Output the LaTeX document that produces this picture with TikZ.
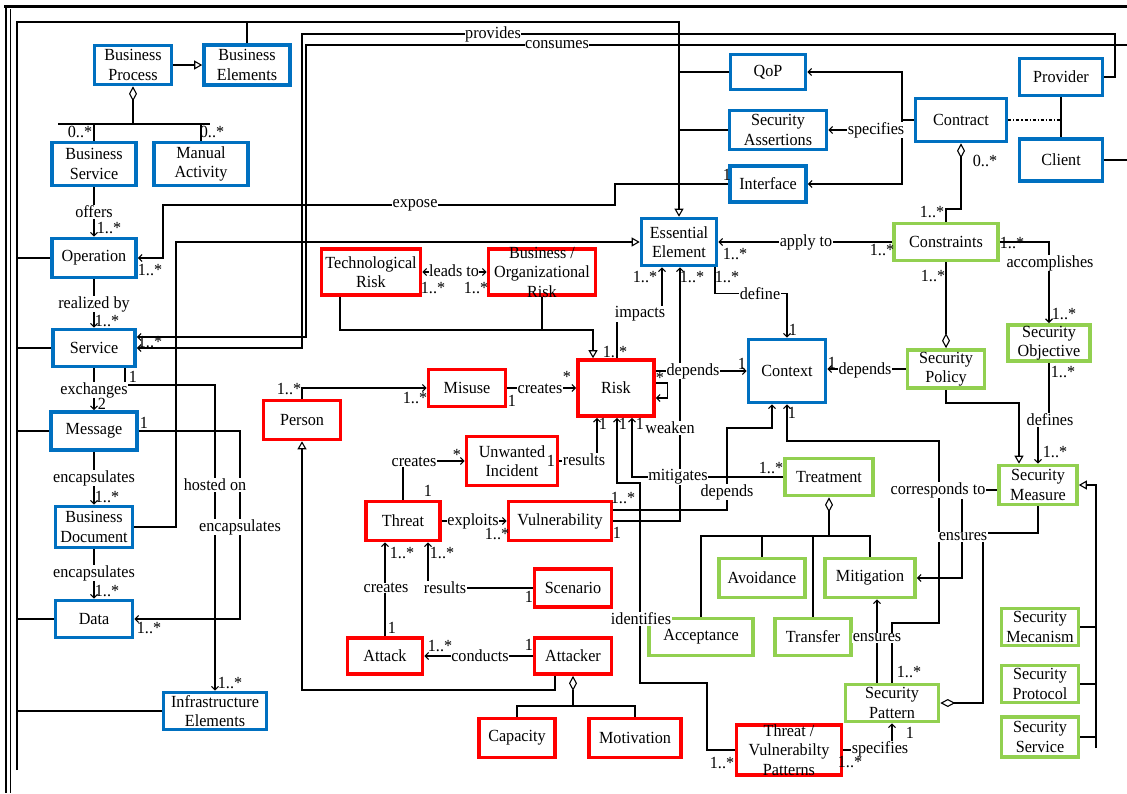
\documentclass[tikz,border=0pt]{standalone}
\usepackage{fontspec}
\setmainfont{Liberation Serif}[FakeStretch=0.95]
\usepackage{tikz}
\usetikzlibrary{arrows.meta}
\usepackage{xcolor}

\definecolor{umlblue}{HTML}{0070C0}
\definecolor{umlred}{HTML}{FF0000}
\definecolor{umlgreen}{HTML}{92D050}
\newcommand{\om}{1..*}
\newcommand{\zm}{0..*}

\tikzset{
  box/.style={draw, line width=3.6pt, align=center, inner sep=1pt},
  bluebox/.style={box, draw=umlblue},
  redbox/.style={box, draw=umlred},
  greenbox/.style={box, draw=umlgreen},
  sz/.style 2 args={minimum width=#1, minimum height=#2},
  nav/.style={-{Straight Barb[length=3.5pt,width=7pt]}},
  navboth/.style={{Straight Barb[length=3.5pt,width=7pt]}-{Straight Barb[length=3.5pt,width=7pt]}},
  gen/.style={-{Triangle[open,length=8pt,width=9pt]}},
  agg/.style={{Diamond[open,length=15pt,width=8pt]}-},
  lbl/.style={fill=white, inner sep=0.6pt},
  mult/.style={inner sep=0pt},
}

\begin{document}
\begin{tikzpicture}[x=1pt, y=-1pt, line width=1.1pt,
    every node/.append style={font=\fontsize{17}{19.5}\selectfont}]
    \useasboundingbox (0,0) rectangle (1127,793);

    % frame
    \draw[line width=2.5pt] (4,6.5) -- (1127,6.5);
    \draw[line width=2pt] (6,5.5) -- (6,793);
    \draw[line width=0.8pt] (10.5,9) -- (10.5,793);

    % business side (blue)
    \node[bluebox, sz={77}{39}] (bp) at (133,65) {Business\\Process};
    \node[bluebox, sz={86}{40}] (be) at (247,65) {Business\\Elements};
    \node[bluebox, sz={84}{43}] (bs) at (94,164) {Business\\Service};
    \node[bluebox, sz={94}{43}] (ma) at (201,164) {Manual\\Activity};
    \node[bluebox, sz={84}{39}] (op) at (94,258) {Operation};
    \node[bluebox, sz={82}{37}] (sv) at (94,348) {Service};
    \node[bluebox, sz={86}{38}] (msg) at (94,431) {Message};
    \node[bluebox, sz={77}{41}] (bd) at (94,527) {Business\\Document};
    \node[bluebox, sz={77}{37}] (data) at (94,619) {Data};
    \node[bluebox, sz={103}{37}] (infra) at (215,711) {Infrastructure\\Elements};
    \node[bluebox, sz={75}{35}] (qop) at (768,72) {QoP};
    \node[bluebox, sz={97}{39}] (sa) at (778,130) {Security\\Assertions};
    \node[bluebox, sz={76}{36}] (itf) at (768,184) {Interface};
    \node[bluebox, sz={75}{47}] (ee) at (679,242) {Essential\\Element};
    \node[bluebox, sz={91}{43}] (contract) at (961,120) {Contract};
    \node[bluebox, sz={83}{37}] (provider) at (1061,77) {Provider};
    \node[bluebox, sz={83}{42}] (client) at (1061,160) {Client};
    \node[bluebox, sz={77}{63}] (ctx) at (787,371) {Context};

    % risk side (red)
    \node[redbox, sz={99}{46}] (tr) at (371,272) {Technological\\Risk};
    \node[redbox, sz={107}{46}, inner ysep=-5pt] (br) at (542,272) {Business /\\Organizational\\Risk};
    \node[redbox, sz={76}{56}] (risk) at (616,388) {Risk};
    \node[redbox, sz={77}{37}] (misuse) at (467,388) {Misuse};
    \node[redbox, sz={77}{39}] (person) at (302,420) {Person};
    \node[redbox, sz={91}{49}] (ui) at (512,461) {Unwanted\\Incident};
    \node[redbox, sz={74}{39}] (threat) at (403,521) {Threat};
    \node[redbox, sz={103}{39}] (vuln) at (560,521) {Vulnerability};
    \node[redbox, sz={77}{38}] (scen) at (573,588) {Scenario};
    \node[redbox, sz={75}{36}] (attack) at (385,656) {Attack};
    \node[redbox, sz={77}{36}] (attacker) at (573,656) {Attacker};
    \node[redbox, sz={76}{39}] (cap) at (517,738) {Capacity};
    \node[redbox, sz={92}{39}] (mot) at (635,738) {Motivation};
    \node[redbox, sz={105}{50}, inner ysep=-4pt] (tvp) at (789,750) {Threat /\\Vulnerabilty\\Patterns};

    % security side (green)
    \node[greenbox, sz={104}{37}] (cons) at (946,242) {Constraints};
    \node[greenbox, sz={77}{38}] (spol) at (946,369) {Security\\Policy};
    \node[greenbox, sz={82}{36}] (sobj) at (1049,343) {Security\\Objective};
    \node[greenbox, sz={88}{37}] (treat) at (829,477) {Treatment};
    \node[greenbox, sz={78}{39}] (smeas) at (1038,485) {Security\\Measure};
    \node[greenbox, sz={86}{39}] (avoid) at (762,578) {Avoidance};
    \node[greenbox, sz={90}{39}] (mitig) at (870,578) {Mitigation};
    \node[greenbox, sz={104}{37}] (accept) at (701,637) {Acceptance};
    \node[greenbox, sz={76}{37}] (transfer) at (813,637) {Transfer};
    \node[greenbox, sz={93}{37}] (spat) at (892,703) {Security\\Pattern};
    \node[greenbox, sz={77}{37}] (smec) at (1040,627) {Security\\Mecanism};
    \node[greenbox, sz={77}{37}] (sprot) at (1040,684) {Security\\Protocol};
    \node[greenbox, sz={77}{40}] (sserv) at (1040,737) {Security\\Service};

    \coordinate (bpbus) at (133,124);
    \coordinate (tbus) at (829,536);
    \coordinate (abus) at (573,706);
    \coordinate (rbus) at (593,330);
    \coordinate (smbus) at (1096,748);
    \coordinate (specj) at (902,130);
    \coordinate (corrj) at (939,490);
    \coordinate (ensj) at (962,499);

    % everything specialises Essential Element
    \draw[gen] (17,770) |- (679,22) -- (ee.north);
    \draw (be.north) |- (17,22);
    \draw (op.west) -| (17,22);
    \draw (sv.west) -| (17,22);
    \draw (msg.west) -| (17,22);
    \draw (data.west) -| (17,22);
    \draw (infra.west) -| (17,22);
    \draw (qop.west) -| (679,22);
    \draw (sa.west) -| (679,22);
    \draw[gen] (bd.east) -| (176,242) -- (ee.west);
    \draw[gen] (bp.east) -- (bp.east -| be.west);

    % Business Process parts
    \draw[agg] (bp.south) -- (bpbus);
    \draw (58,124) -- (210,124);
    \draw (bs.north) |- (bpbus);
    \draw (ma.north) |- (bpbus);

    % left column
    \draw[nav] (bs.south) -- (op.north);
    \draw[nav] (op.south) -- (sv.north);
    \draw[nav] (sv.south) -- (msg.north);
    \draw[nav] (msg.south) -- (bd.north);
    \draw[nav] (bd.south) -- (data.north);
    \draw[nav] ([xshift=31pt]sv.south) |- (215,385) -- (infra.north);
    \draw[nav] (msg.east) -| (240,619) -- (data.east);
    \draw[nav] (itf.west) -| (615,205) -- (163,205) |- (op.east);

    % provides / consumes
    \draw[nav] (provider.east) -| (1115,34) -- (302,34) |- (sv.east);
    \draw[nav] (client.east) -| (1140,45) -- (306,45) |- ([yshift=11pt]sv.east);

    % Contract
    \draw[nav] (contract.west) -| (902,72) -- (qop.east);
    \draw[nav] (contract.west) -| (902,184) -- (itf.east);
    \draw[nav] (specj) -- (sa.east);
    \draw (provider.south) -- (client.north);
    \draw[dash dot] (contract.east) -- (contract.east -| provider.south);
    \draw[agg] (contract.south) |- (946,209) -- (cons.north);

    % Constraints, Policy, Objective, Measure
    \draw[nav] (cons.west) -- (cons.west -| ee.east);
    \draw[nav] (cons.east) -| (sobj.north);
    \draw[agg] (spol.north) -- (cons.south);
    \draw[nav] (spol.west) -- (spol.west -| ctx.east);
    \draw[gen] (spol.south) |- (1019,403) -- ([xshift=-19pt]smeas.north);
    \draw[nav] (sobj.south) -- ++(0,57) -| (smeas.north);
    \draw[gen] (smbus) |- (smeas.east);
    \draw (smec.east) -| (smbus);
    \draw (sprot.east) -| (smbus);
    \draw (sserv.east) -| (smbus);
    \draw[agg] (spat.east) -| (983,533) -| (smeas.south);
    \draw[nav] (spat.north) |- (939,623) -- (939,441) -| (ctx.south);
    \draw (corrj) -- (corrj -| smeas.west);
    \draw[nav] (ensj) |- (mitig.east);
    \draw[nav] ([xshift=-15pt]spat.north) -- ([xshift=7pt]mitig.south);
    \draw[nav] (tvp.east) -| (spat.south);

    % Treatment kinds
    \draw[agg] (treat.south) -- (tbus);
    \draw (accept.north) |- (tbus);
    \draw (avoid.north) |- (tbus);
    \draw (transfer.north) |- (tbus);
    \draw (mitig.north) |- (tbus);

    % Attacker parts
    \draw[agg] (attacker.south) -- (abus);
    \draw (cap.north) |- (abus);
    \draw (mot.north) |- (abus);

    % Risk
    \draw[gen] ([xshift=-31pt]tr.south) |- (rbus) -- ([xshift=-23pt]risk.north);
    \draw (br.south) |- (rbus);
    \draw[navboth] (tr.east) -- (br.west);
    \draw[nav] ([xshift=1pt]risk.north) |- (662,313) -- ([xshift=-17pt]ee.south);
    \draw[nav] (vuln.east) -| ([xshift=1pt]ee.south);
    \draw[nav] ([xshift=36pt]ee.south) -- ++(0,26) -| (ctx.north);
    \draw[nav] (risk.east |- ctx.west) -- (ctx.west);
    \draw[nav] ([yshift=5pt]risk.east) -- ++(12,0) -- ++(0,15) -- ++(-12,0);
    \draw[nav] (misuse.east) -- (misuse.east -| risk.west);
    \draw[nav] (person.north) |- (misuse.west);
    \draw[gen] ([xshift=-18pt]attacker.south) |- (302,690) -- (person.south);
    \draw[nav] (ui.east) -| ([xshift=-19pt]risk.south);
    \draw[nav] (threat.north) |- (ui.west);
    \draw[nav] (threat.east) -- (vuln.west);
    \draw[nav] (attack.north) -- (attack.north |- threat.south);
    \draw[nav] (scen.west) -| ([xshift=25pt]threat.south);
    \draw[nav] (attacker.west) -- (attack.east);
    \draw[nav] (tvp.west) -| (707,683) -| (640,483) -| ([xshift=1pt]risk.south);
    \draw[nav] (treat.west) -| ([xshift=16pt]risk.south);
    \draw[nav] ([yshift=11pt]vuln.east) -| (727,428) -| ([xshift=-15pt]ctx.south);

    % association names
    \node[lbl] (loffers) at (94,212) {offers};
    \node[lbl] (lreal) at (94,304) {realized by};
    \node[lbl] (lexch) at (94,390) {exchanges};
    \node[lbl] (lenc1) at (94,478) {encapsulates};
    \node[lbl] (lenc2) at (94,573) {encapsulates};
    \node[lbl] (lhost) at (215,485) {hosted on};
    \node[lbl] (lenc3) at (240,527) {encapsulates};
    \node[lbl] (lexpose) at (415,205) {expose};
    \node[lbl] (lprov) at (493,34) {provides};
    \node[lbl] (lcons) at (557,45) {consumes};
    \node[lbl] (lspec) at (876,130) {specifies};
    \node[lbl] (lapply) at (806,242) {apply to};
    \node[lbl] (lacc) at (1050,263) {accomplishes};
    \node[lbl] (ldep1) at (865,370) {depends};
    \node[lbl] (ldef) at (1050,420) {defines};
    \node[lbl] (lcorr) at (938,490) {corresponds to};
    \node[lbl] (lens1) at (963,537) {ensures};
    \node[lbl] (lens2) at (877,638) {ensures};
    \node[lbl] (lspec2) at (880,749) {specifies};
    \node[lbl] (lleads) at (454,271) {leads to};
    \node[lbl] (limp) at (640,314) {impacts};
    \node[lbl] (lweak) at (670,428) {weaken};
    \node[lbl] (ldefine) at (760,294) {define};
    \node[lbl] (ldep2) at (693,371) {depends};
    \node[lbl] (lcre1) at (540,389) {creates};
    \node[lbl] (lres1) at (584,460) {results};
    \node[lbl] (lcre2) at (414,462) {creates};
    \node[lbl] (lexpl) at (473,521) {exploits};
    \node[lbl] (lcre3) at (386,588) {creates};
    \node[lbl] (lres2) at (445,588) {results};
    \node[lbl] (lcond) at (480,656) {conducts};
    \node[lbl] (lident) at (641,619) {identifies};
    \node[lbl] (lmitig) at (678,477) {mitigates};
    \node[lbl] (ldep3) at (727,492) {depends};

    % multiplicities
    \foreach \mx/\my/\mt [count=\mi] in {
      80/132/\zm, 212/132/\zm, 109/228/\om, 107/321/\om, 102/404/2, 107/497/\om,
      107/591/\om, 144/423/1, 149/628/\om, 133/377/1, 230/683/\om, 150/270/\om,
      727/175/1, 150/342/\om, 985/161/\zm, 932/212/\om, 735/254/\om, 882/250/\om,
      1012/243/\om, 1064/314/\om, 933/276/\om, 832/363/1, 1063/372/\om, 1055/452/\om,
      792/413/1, 909/672/\om, 910/733/1, 850/762/\om, 722/763/\om, 433/288/\om,
      476/288/\om, 615/352/\om, 645/277/\om, 692/277/\om, 727/277/\om, 793/330/1,
      742/364/1, 660/378/*, 512/401/1, 567/377/*, 289/389/\om, 415/398/\om,
      551/461/1, 603/424/1, 457/455/*, 428/491/1, 497/534/\om, 402/553/\om,
      392/628/1, 442/553/\om, 529/597/1, 440/646/\om, 529/645/1, 623/424/1,
      640/424/1, 617/533/1, 623/498/\om, 771/468/\om}
      \node[mult] (m\mi) at (\mx,\my) {\mt};
\end{tikzpicture}
\end{document}
